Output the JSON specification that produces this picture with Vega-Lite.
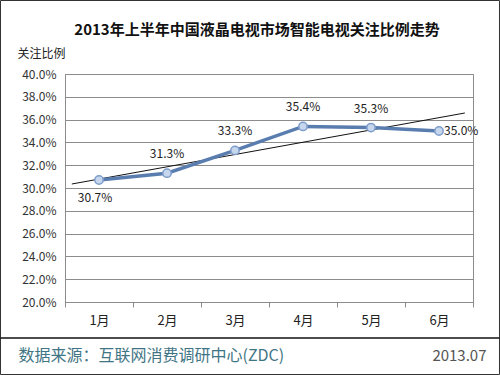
{
  "$schema": "https://vega.github.io/schema/vega-lite/v6.json",
  "width": 408,
  "height": 228,
  "autosize": {"type": "none"},
  "padding": {"left": 65, "top": 74, "right": 27, "bottom": 73},
  "background": "white",
  "config": {
    "view": {"stroke": "#8c8c8c", "strokeWidth": 1},
    "font": "Noto Sans CJK SC"
  },
  "title": {
    "text": "2013年上半年中国液晶电视市场智能电视关注比例走势",
    "fontSize": 15,
    "fontWeight": "bold",
    "color": "#111111",
    "anchor": "middle",
    "frame": "group",
    "dx": -12,
    "offset": -38
  },
  "datasets": {
    "main": [
      {"m": 1, "v": 0.307},
      {"m": 2, "v": 0.313},
      {"m": 3, "v": 0.333},
      {"m": 4, "v": 0.354},
      {"m": 5, "v": 0.353},
      {"m": 6, "v": 0.350}
    ],
    "trend": [
      {"t": 0.6, "v": 0.3035},
      {"t": 6.38, "v": 0.3658}
    ]
  },
  "resolve": {"axis": {"x": "independent", "y": "independent"}},
  "layer": [
    {
      "data": {"values": [{}]},
      "mark": {"type": "rect", "fill": null, "stroke": "#333333", "strokeWidth": 1},
      "encoding": {
        "x": {"datum": -0.4485, "type": "quantitative", "scale": {"domain": [0.5, 6.5], "nice": false, "zero": false}, "axis": null},
        "x2": {"datum": 6.8897},
        "y": {"datum": 0.46447, "type": "quantitative", "scale": {"domain": [0.2, 0.4], "nice": false, "zero": false}, "axis": null},
        "y2": {"datum": 0.1364}
      }
    },
    {
      "data": {"values": [{}]},
      "mark": {"type": "rule", "stroke": "#111111", "strokeWidth": 1.5},
      "encoding": {
        "x": {"datum": -0.4485, "type": "quantitative", "scale": {"domain": [0.5, 6.5], "nice": false, "zero": false}, "axis": null},
        "x2": {"datum": 6.8897},
        "y": {
          "datum": 0.16842,
          "type": "quantitative",
          "scale": {"domain": [0.2, 0.4], "nice": false, "zero": false},
          "axis": {
            "orient": "right",
            "title": "2013.07",
            "labels": false,
            "ticks": false,
            "domain": false,
            "grid": false,
            "titleAngle": 0,
            "titleX": 13,
            "titleY": 281,
            "titleAlign": "right",
            "titleBaseline": "middle",
            "titleFontSize": 15,
            "titleFontWeight": "normal",
            "titleColor": "#555555"
          }
        }
      }
    },
    {
      "data": {"name": "trend"},
      "mark": {"type": "line", "stroke": "#111111", "strokeWidth": 1},
      "encoding": {
        "x": {"field": "t", "type": "quantitative", "scale": {"domain": [0.5, 6.5], "nice": false, "zero": false}, "axis": null},
        "y": {"field": "v", "type": "quantitative", "scale": {"domain": [0.2, 0.4], "nice": false, "zero": false}, "axis": null}
      }
    },
    {
      "data": {"name": "main"},
      "mark": {"type": "line", "stroke": "#5a7db0", "strokeWidth": 3.5},
      "encoding": {
        "x": {
          "field": "m",
          "type": "quantitative",
          "scale": {"domain": [0.5, 6.5], "nice": false, "zero": false},
          "axis": {
            "values": [0.5, 1.5, 2.5, 3.5, 4.5, 5.5, 6.5],
            "labelExpr": "datum.value < 6 ? format(datum.value + 0.5, 'd') + '月' : ''",
            "labelOffset": 34,
            "labelFlush": false,
            "labelOverlap": false,
            "labelBound": false,
            "labelPadding": 7,
            "labelFontSize": 13,
            "labelColor": "#222222",
            "tickSize": 5,
            "tickColor": "#8c8c8c",
            "domainColor": "#8c8c8c",
            "grid": false,
            "title": "数据来源：互联网消费调研中心(ZDC)",
            "titleX": -47,
            "titleY": 53,
            "titleAlign": "left",
            "titleBaseline": "middle",
            "titleFontSize": 16,
            "titleFontWeight": "normal",
            "titleColor": "#3f7584"
          }
        },
        "y": {
          "field": "v",
          "type": "quantitative",
          "scale": {"domain": [0.2, 0.4], "nice": false, "zero": false},
          "axis": {
            "values": [0.2, 0.22, 0.24, 0.26, 0.28, 0.3, 0.32, 0.34, 0.36, 0.38, 0.4],
            "format": ".1%",
            "grid": true,
            "gridColor": "#8c8c8c",
            "domainColor": "#8c8c8c",
            "ticks": false,
            "labelPadding": 9,
            "labelFontSize": 12,
            "labelColor": "#333333",
            "title": "关注比例",
            "titleAngle": 0,
            "titleX": -48,
            "titleY": -21,
            "titleAlign": "left",
            "titleBaseline": "middle",
            "titleFontSize": 12,
            "titleFontWeight": "normal",
            "titleColor": "#222222"
          }
        }
      }
    },
    {
      "data": {"name": "main"},
      "mark": {"type": "point", "shape": "circle", "filled": true, "size": 70, "fill": "#c6d6ec", "stroke": "#7e9ccb", "strokeWidth": 1.5, "opacity": 1},
      "encoding": {
        "x": {"field": "m", "type": "quantitative", "scale": {"domain": [0.5, 6.5], "nice": false, "zero": false}, "axis": null},
        "y": {"field": "v", "type": "quantitative", "scale": {"domain": [0.2, 0.4], "nice": false, "zero": false}, "axis": null}
      }
    },
    {
      "data": {"name": "main"},
      "transform": [{"filter": "datum.m >= 2 && datum.m <= 5"}],
      "mark": {"type": "text", "dy": -19, "fontSize": 12, "color": "#222222", "baseline": "middle"},
      "encoding": {
        "x": {"field": "m", "type": "quantitative", "scale": {"domain": [0.5, 6.5], "nice": false, "zero": false}, "axis": null},
        "y": {"field": "v", "type": "quantitative", "scale": {"domain": [0.2, 0.4], "nice": false, "zero": false}, "axis": null},
        "text": {"field": "v", "type": "quantitative", "format": ".1%"}
      }
    },
    {
      "data": {"name": "main"},
      "transform": [{"filter": "datum.m == 1"}],
      "mark": {"type": "text", "dy": 18, "dx": -4, "fontSize": 12, "color": "#222222", "baseline": "middle"},
      "encoding": {
        "x": {"field": "m", "type": "quantitative", "scale": {"domain": [0.5, 6.5], "nice": false, "zero": false}, "axis": null},
        "y": {"field": "v", "type": "quantitative", "scale": {"domain": [0.2, 0.4], "nice": false, "zero": false}, "axis": null},
        "text": {"field": "v", "type": "quantitative", "format": ".1%"}
      }
    },
    {
      "data": {"name": "main"},
      "transform": [{"filter": "datum.m == 6"}],
      "mark": {"type": "text", "dx": 5, "align": "left", "fontSize": 12, "color": "#222222", "baseline": "middle"},
      "encoding": {
        "x": {"field": "m", "type": "quantitative", "scale": {"domain": [0.5, 6.5], "nice": false, "zero": false}, "axis": null},
        "y": {"field": "v", "type": "quantitative", "scale": {"domain": [0.2, 0.4], "nice": false, "zero": false}, "axis": null},
        "text": {"field": "v", "type": "quantitative", "format": ".1%"}
      }
    }
  ]
}
